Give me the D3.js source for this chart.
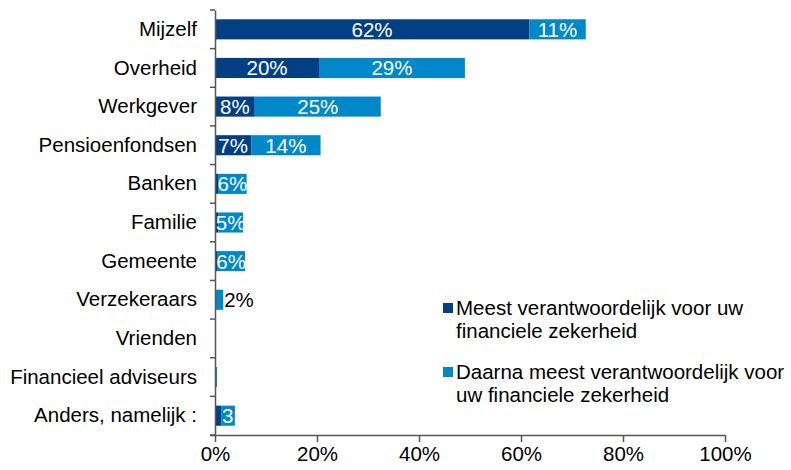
<!DOCTYPE html>
<html>
<head>
<meta charset="utf-8">
<script src="https://cdn.jsdelivr.net/npm/d3@7"></script>
<style>
  body { margin: 0; background: #fff; }
  text { font-family: "Liberation Sans", Arial, sans-serif; }
</style>
</head>
<body>
<div id="chart"></div>
<script>
const width = 791;
const height = 470;

// categories, top to bottom
const categories = ['Mijzelf', 'Overheid', 'Werkgever', 'Pensioenfondsen', 'Banken', 'Familie',
  'Gemeente', 'Verzekeraars', 'Vrienden', 'Financieel adviseurs', 'Anders, namelijk :'];
// % "meest verantwoordelijk"
const mostValues = [61.6, 20.4, 7.8, 7.1, 0.6, 0.6, 0.4, 0, 0.2, 0, 1.2];
// % "daarna meest verantwoordelijk"
const nextValues = [11.1, 28.6, 24.7, 13.6, 5.6, 4.9, 5.5, 1.6, 0, 0.4, 2.7];
const mostLabels = ['62%', '20%', '8%', '7%', '', '', '', '', '', '', ''];
const nextLabels = ['11%', '29%', '25%', '14%', '6%', '5%', '6%', '2%', '', '', '3'];
const xTicks = [0, 20, 40, 60, 80, 100];
const seriesNames = [
  ['Meest verantwoordelijk voor uw', 'financiele zekerheid'],
  ['Daarna meest verantwoordelijk voor', 'uw financiele zekerheid'],
];
const colors = ['#023f85', '#0088c9'];

const margin = { top: 10, right: 66, bottom: 35, left: 215 };

const svg = d3.select('#chart')
  .append('svg')
  .attr('width', width)
  .attr('height', height);

const x = d3.scaleLinear().domain([0, 100]).range([margin.left, width - margin.right]);
const y = d3.scaleBand()
  .domain(categories)
  .range([margin.top, height - margin.bottom])
  .paddingInner(0.48)
  .paddingOuter(0.24);

const fontSize = '20.5px';

// bars
const rows = categories.map((c, i) => ({
  cat: c, most: mostValues[i], next: nextValues[i], mostLabel: mostLabels[i], nextLabel: nextLabels[i],
}));

const g = svg.append('g');
g.selectAll('.most')
  .data(rows)
  .enter()
  .append('rect')
  .attr('x', x(0))
  .attr('y', d => y(d.cat))
  .attr('width', d => x(d.most) - x(0))
  .attr('height', y.bandwidth())
  .attr('fill', colors[0]);

g.selectAll('.next')
  .data(rows)
  .enter()
  .append('rect')
  .attr('x', d => x(d.most))
  .attr('y', d => y(d.cat))
  .attr('width', d => x(d.most + d.next) - x(d.most))
  .attr('height', y.bandwidth())
  .attr('fill', colors[1]);

// value labels
g.selectAll('.mostLabel')
  .data(rows.filter(d => d.mostLabel))
  .enter()
  .append('text')
  .attr('x', d => x(d.most / 2))
  .attr('y', d => y(d.cat) + y.bandwidth() / 2)
  .attr('dy', '0.36em')
  .attr('text-anchor', 'middle')
  .attr('fill', '#fff')
  .style('font-size', fontSize)
  .text(d => d.mostLabel);

g.selectAll('.nextLabel')
  .data(rows.filter(d => d.nextLabel))
  .enter()
  .append('text')
  .attr('x', (d) => {
    if (d.cat === 'Verzekeraars') return x(d.most + d.next) + 1;
    if (d.cat === 'Anders, namelijk :') return x(d.most) + 1;
    return x(d.most + d.next / 2);
  })
  .attr('y', d => y(d.cat) + y.bandwidth() / 2)
  .attr('dy', '0.36em')
  .attr('text-anchor', d => (d.cat === 'Verzekeraars' || d.cat === 'Anders, namelijk :' ? 'start' : 'middle'))
  .attr('fill', d => (d.cat === 'Verzekeraars' ? '#000' : '#fff'))
  .style('font-size', fontSize)
  .text(d => d.nextLabel);

// y axis: category labels, boundary ticks
const yAxis = svg.append('g')
  .attr('transform', `translate(${x(0)},0)`)
  .call(d3.axisLeft(y).tickSize(0).tickPadding(18));
yAxis.select('.domain').attr('stroke', '#555').attr('stroke-width', 1.5);
yAxis.selectAll('text').style('font-size', fontSize).attr('fill', '#000');

const step = y.step();
yAxis.selectAll('.bound')
  .data(d3.range(categories.length + 1))
  .enter()
  .append('line')
  .attr('x1', -5)
  .attr('x2', 0)
  .attr('y1', i => margin.top + i * step)
  .attr('y2', i => margin.top + i * step)
  .attr('stroke', '#555')
  .attr('stroke-width', 1.5);

// x axis
const xAxis = svg.append('g')
  .attr('transform', `translate(0,${height - margin.bottom})`)
  .call(d3.axisBottom(x).tickValues(xTicks).tickFormat(d => `${d}%`).tickSize(7).tickSizeOuter(0).tickPadding(4));
xAxis.select('.domain').attr('stroke', '#555').attr('stroke-width', 1.5)
  .attr('d', `M${x(0) - 5},0.5H${x(100)}`);
xAxis.selectAll('line').attr('stroke', '#555').attr('stroke-width', 1.5);
xAxis.selectAll('text').style('font-size', fontSize).attr('fill', '#000');

// legend
const legend = svg.append('g').attr('transform', 'translate(443,300)');
const legendItems = legend.selectAll('g')
  .data(seriesNames)
  .enter()
  .append('g')
  .attr('transform', (d, i) => `translate(0,${i * 64})`);
legendItems.append('rect')
  .attr('x', 0)
  .attr('y', 3)
  .attr('width', 10)
  .attr('height', 10)
  .attr('fill', (d, i) => colors[i]);
legendItems.each(function (d) {
  const t = d3.select(this).append('text')
    .attr('x', 13)
    .attr('y', 15)
    .style('font-size', fontSize)
    .attr('fill', '#000');
  d.forEach((line, j) => {
    t.append('tspan').attr('x', 13).attr('dy', j === 0 ? 0 : 22.5).text(line);
  });
});
</script>
</body>
</html>
